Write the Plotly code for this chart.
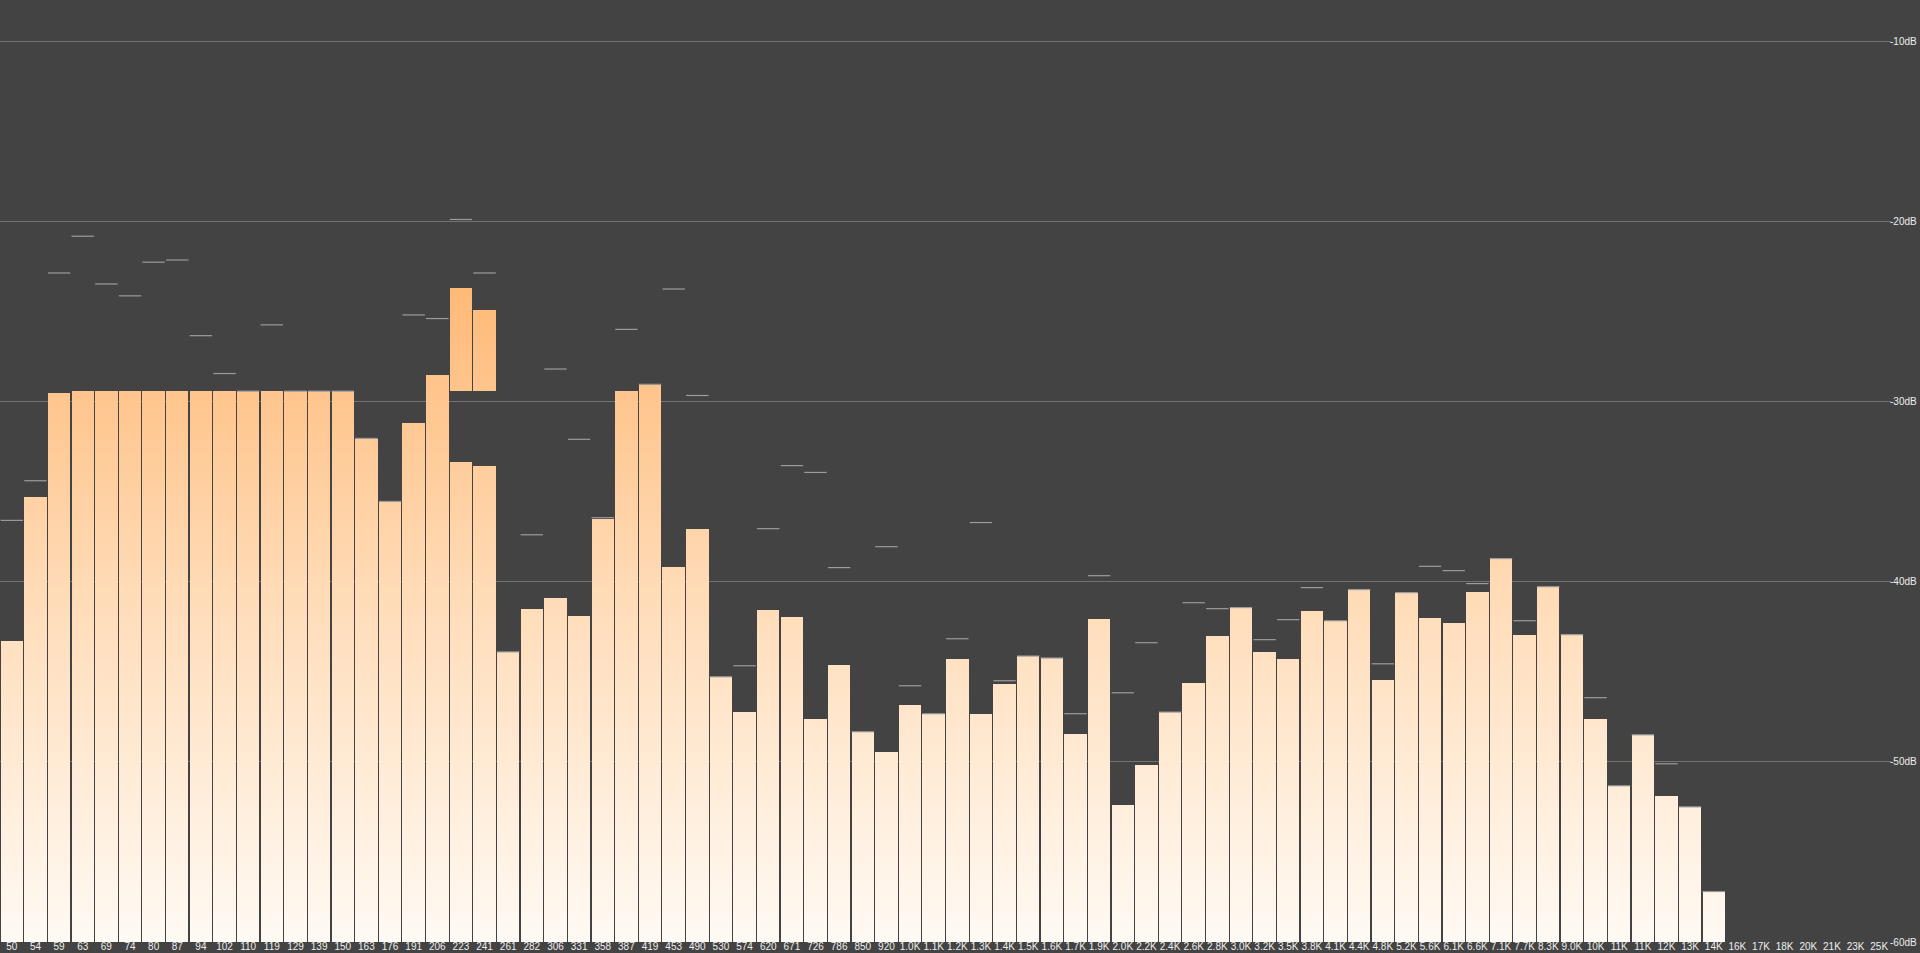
import plotly.graph_objects as go

# ---- data -------------------------------------------------------------
freq_labels = ["50", "54", "59", "63", "69", "74", "80", "87", "94", "102",
               "110", "119", "129", "139", "150", "163", "176", "191", "206", "223",
               "241", "261", "282", "306", "331", "358", "387", "419", "453", "490",
               "530", "574", "620", "671", "726", "786", "850", "920", "1.0K", "1.1K",
               "1.2K", "1.3K", "1.4K", "1.5K", "1.6K", "1.7K", "1.9K", "2.0K", "2.2K", "2.4K",
               "2.6K", "2.8K", "3.0K", "3.2K", "3.5K", "3.8K", "4.1K", "4.4K", "4.8K", "5.2K",
               "5.6K", "6.1K", "6.6K", "7.1K", "7.7K", "8.3K", "9.0K", "10K", "11K", "11K",
               "12K", "13K", "14K", "16K", "17K", "18K", "20K", "21K", "23K", "25K"]

level_db = [-43.3, -35.3, -29.54, -29.43, -29.43, -29.43, -29.43, -29.43, -29.43, -29.43,
            -29.43, -29.43, -29.43, -29.43, -29.43, -32.1, -35.6, -31.2, -28.55, -33.35,
            -33.6, -43.9, -41.5, -40.9, -41.9, -36.5, -29.43, -29.1, -39.2, -37.1,
            -45.28, -47.26, -41.6, -41.98, -47.6, -44.6, -48.33, -49.43, -46.87, -47.33,
            -44.31, -47.37, -45.7, -44.13, -44.24, -48.43, -42.09, -52.37, -50.15, -47.24,
            -45.65, -43.04, -41.44, -43.93, -44.31, -41.65, -42.17, -40.44, -45.48, -40.61,
            -42.04, -42.31, -40.59, -38.72, -42.98, -40.28, -42.94, -47.65, -51.33, -48.5,
            -51.9, -52.5, -57.2, None, None, None, None, None, None, None]

peak_db = [-36.6, -34.4, -22.87, -20.83, -23.48, -24.14, -22.27, -22.15, -26.35, -28.45,
           -29.43, -25.75, -29.43, -29.43, -29.43, -32.05, -35.55, -25.2, -25.4, -19.9,
           -22.87, -43.9, -37.4, -28.2, -32.1, -36.45, -26.0, -29.05, -23.76, -29.67,
           -45.28, -44.67, -37.06, -33.56, -33.94, -39.22, -48.33, -38.06, -45.78, -47.33,
           -43.17, -36.72, -45.5, -44.13, -44.24, -47.33, -39.67, -46.17, -43.39, -47.24,
           -41.17, -41.5, -41.44, -43.22, -42.11, -40.33, -42.17, -40.44, -44.56, -40.61,
           -39.15, -39.39, -40.11, -38.72, -42.17, -40.28, -42.94, -46.44, -51.33, -48.5,
           -50.11, -52.5, -57.2, None, None, None, None, None, None, None]

# detached upper blocks (223 Hz and 241 Hz bands)
block_labels = ["223", "241"]
block_bottom = [-29.43, -29.43]
block_top = [-23.7, -24.9]

y_ticks = [-10, -20, -30, -40, -50, -60]
y_tick_text = ["-10dB", "-20dB", "-30dB", "-40dB", "-50dB", "-60dB"]
floor_db = -60

# ---- geometry helpers --------------------------------------------------
half = 0.474
xs, ys = [], []
for i, v in enumerate(level_db):
    if v is None:
        continue
    xs += [i - half, i - half, i + half, i + half, i - half, None]
    ys += [floor_db, v, v, floor_db, floor_db, None]
for lab, b, t in zip(block_labels, block_bottom, block_top):
    i = freq_labels.index(lab)
    xs += [i - half, i - half, i + half, i + half, i - half, None]
    ys += [b, t, t, b, b, None]

px, py = [], []
for i, p in enumerate(peak_db):
    if p is None:
        continue
    px += [i - half, i + half, None]
    py += [p, p, None]

fig = go.Figure()
fig.add_trace(go.Scatter(
    x=xs, y=ys, mode="lines", fill="toself",
    line=dict(width=0, color="rgba(0,0,0,0)"),
    fillgradient=dict(
        type="vertical",
        start=-60, stop=-22,
        colorscale=[[0.0, "#fffaf4"], [0.5, "#ffdcb8"], [1.0, "#ffb671"]],
    ),
    hoverinfo="skip", showlegend=False,
))
fig.add_trace(go.Scatter(
    x=px, y=py, mode="lines",
    line=dict(width=1.2, color="#9c9c9c"),
    hoverinfo="skip", showlegend=False,
))

fig.update_layout(
    width=1920, height=953,
    paper_bgcolor="#434343", plot_bgcolor="#434343",
    margin=dict(l=0, r=29, t=0, b=11),
    font=dict(family="Liberation Sans, Arial, sans-serif", size=10, color="#eeeeee"),
    xaxis=dict(
        range=[-0.5, len(freq_labels) - 0.5],
        tickmode="array",
        tickvals=list(range(len(freq_labels))),
        ticktext=freq_labels,
        tickangle=0,
        showgrid=False, zeroline=False, showline=False,
        ticks="", ticklen=0,
        ticklabelstandoff=-3,
        tickfont=dict(size=10, color="#eeeeee"),
        automargin=False,
        fixedrange=True,
    ),
    yaxis=dict(
        range=[-60, -7.72],
        side="right",
        tickmode="array",
        tickvals=y_ticks,
        ticktext=y_tick_text,
        showgrid=True, gridcolor="#727272", gridwidth=1,
        zeroline=False, showline=False,
        ticks="", ticklen=0,
        ticklabelstandoff=-2,
        tickfont=dict(size=10, color="#eeeeee"),
        automargin=False,
        fixedrange=True,
    ),
)

fig.write_html(
    "out.html",
    config={"displayModeBar": False},
    post_script=(
        "document.body.style.margin='0px';"
        "document.body.style.background='#434343';"
        "var s=document.createElement('style');"
        "s.textContent='.js-fill{shape-rendering:crispEdges}';"
        "document.head.appendChild(s);"
    ),
)
